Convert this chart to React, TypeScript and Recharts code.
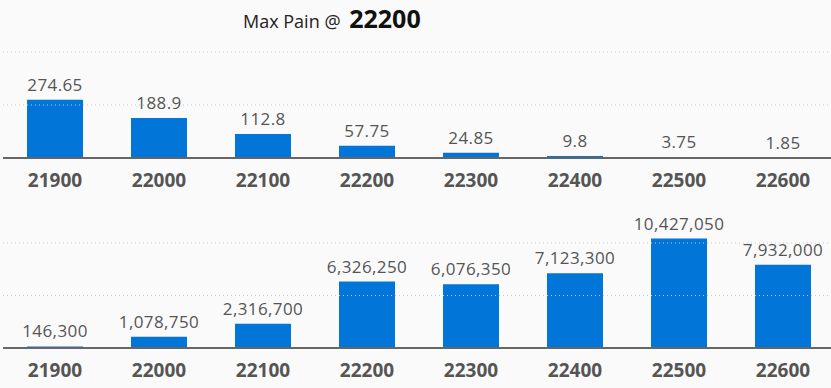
import React from 'react';
import { BarChart, Bar, XAxis, YAxis, ReferenceLine, LabelList } from 'recharts';

const strikes = ['21900', '22000', '22100', '22200', '22300', '22400', '22500', '22600'];
const premiums = [274.65, 188.9, 112.8, 57.75, 24.85, 9.8, 3.75, 1.85];
const pains = [146300, 1078750, 2316700, 6326250, 6076350, 7123300, 10427050, 7932000];
const maxPainStrike = '22200';

const topGrid = [250, 500];
const bottomGrid = [5000000, 10000000];

const FONT = '"Open Sans", "Noto Sans", sans-serif';
const BAR = '#0275d8';
const TEXT = '#555';

const topData = strikes.map((s, i) => ({ strike: s, value: premiums[i] }));
const bottomData = strikes.map((s, i) => ({ strike: s, value: pains[i] }));

const tickStyle = { fontFamily: FONT, fontSize: 19, fontWeight: 700, fill: TEXT };
const labelStyle = { fontFamily: FONT, fontSize: 17, fill: TEXT, letterSpacing: 0.4 };

const App = () => {
  return <div style={{ position: 'fixed', left: 0, top: 0, width: 831, height: 388, overflow: 'hidden', background: '#fafafa' }}>
      <div style={{ position: 'absolute', left: 243, top: 1, fontFamily: FONT, color: '#222', whiteSpace: 'nowrap' }}>
        <span style={{ fontSize: 18 }}>Max Pain @ </span>
        <span style={{ fontSize: 25, fontWeight: 700, color: '#111', marginLeft: 4 }}>{maxPainStrike}</span>
      </div>
      <div style={{ position: 'absolute', left: 0, top: 0 }}>
        <BarChart width={838} height={200} data={topData} margin={{ top: 52, right: 3, left: 3, bottom: 10 }}>
          {topGrid.map(v => <ReferenceLine key={v} y={v} stroke="#c8c8c8" strokeDasharray="1 3" />)}
          <XAxis dataKey="strike" height={32} tickLine={false} tickSize={0} tickMargin={16} axisLine={{ stroke: '#666', strokeWidth: 2 }} tick={tickStyle} interval={0} />
          <YAxis hide domain={[0, 500]} />
          <Bar dataKey="value" fill={BAR} barSize={56} isAnimationActive={false}>
            <LabelList dataKey="value" position="top" offset={9} style={labelStyle} formatter={(v: any) => String(v)} />
          </Bar>
        </BarChart>
      </div>
      <div style={{ position: 'absolute', left: 0, top: 190 }}>
        <BarChart width={838} height={198} data={bottomData} margin={{ top: 42.5, right: 3, left: 3, bottom: 0 }}>
          {bottomGrid.map(v => <ReferenceLine key={v} y={v} stroke="#c8c8c8" strokeDasharray="1 3" />)}
          <XAxis dataKey="strike" height={40} tickLine={false} tickSize={0} tickMargin={16} axisLine={{ stroke: '#666', strokeWidth: 2 }} tick={tickStyle} interval={0} />
          <YAxis hide domain={[0, 11000000]} />
          <Bar dataKey="value" fill={BAR} barSize={56} isAnimationActive={false}>
            <LabelList dataKey="value" position="top" offset={9} style={labelStyle} formatter={(v: any) => Number(v).toLocaleString('en-US')} />
          </Bar>
        </BarChart>
      </div>
    </div>;
};

export default App;
